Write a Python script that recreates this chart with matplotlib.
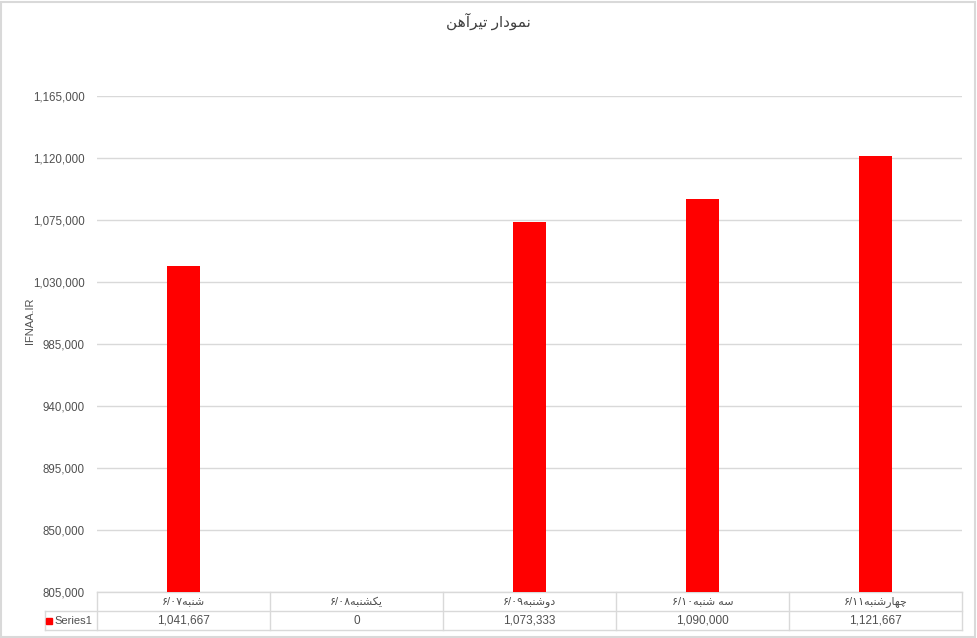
import matplotlib
matplotlib.use('Agg')
import matplotlib.pyplot as plt
from matplotlib.patches import Rectangle
import numpy as np

plt.rcParams['font.family'] = ['Liberation Sans', 'DejaVu Sans']

# داده‌ها
title = 'نمودار تیرآهن'
days = ['شنبه', 'یکشنبه', 'دوشنبه', 'سه شنبه', 'چهارشنبه']
dates = ['۶/۰۷', '۶/۰۸', '۶/۰۹', '۶/۱۰', '۶/۱۱']
values = [1041667, 0, 1073333, 1090000, 1121667]
series_name = 'Series1'
y_label = 'IFNAA.IR'
y_ticks = np.arange(805000, 1165001, 45000)

# matplotlib حروف فارسی را به هم نمی‌چسباند، پس شکل حروف دستی انتخاب می‌شود
# (تنها، پایانی، آغازی، میانی)
forms = {
    'ا': ('\ufe8d', '\ufe8e'),
    'آ': ('\ufe81', '\ufe82'),
    'د': ('\ufea9', '\ufeaa'),
    'ر': ('\ufead', '\ufeae'),
    'و': ('\ufeed', '\ufeee'),
    'ب': ('\ufe8f', '\ufe90', '\ufe91', '\ufe92'),
    'ت': ('\ufe95', '\ufe96', '\ufe97', '\ufe98'),
    'چ': ('\ufb7a', '\ufb7b', '\ufb7c', '\ufb7d'),
    'س': ('\ufeb1', '\ufeb2', '\ufeb3', '\ufeb4'),
    'ش': ('\ufeb5', '\ufeb6', '\ufeb7', '\ufeb8'),
    'ک': ('\ufb8e', '\ufb8f', '\ufb90', '\ufb91'),
    'م': ('\ufee1', '\ufee2', '\ufee3', '\ufee4'),
    'ن': ('\ufee5', '\ufee6', '\ufee7', '\ufee8'),
    'ه': ('\ufee9', '\ufeea', '\ufeeb', '\ufeec'),
    'ی': ('\ufbfc', '\ufbfd', '\ufbfe', '\ufbff'),
}


def shape(text):
    out = []
    for i, c in enumerate(text):
        if c not in forms:
            out.append(c)
            continue
        f = forms[c]
        prev = text[i - 1] if i > 0 else ''
        nxt = text[i + 1] if i + 1 < len(text) else ''
        join_prev = prev in forms and len(forms[prev]) == 4
        join_next = len(f) == 4 and nxt in forms
        if join_prev and join_next:
            out.append(f[3])
        elif join_prev:
            out.append(f[1])
        elif join_next:
            out.append(f[2])
        else:
            out.append(f[0])
    return ''.join(out[::-1])


grey = '#505050'
line_c = '#d9d9d9'

fig = plt.figure(figsize=(9.77, 6.38), dpi=100)
ax = fig.add_axes([97/977, 46/638, 865/977, 496/638])

x = np.arange(len(values))
ax.bar(x, values, width=0.185, color='#ff0000', zorder=3)
ax.set_xlim(-0.5, len(values) - 0.5)
ax.set_ylim(y_ticks[0], y_ticks[-1])
ax.set_yticks(y_ticks)
ax.set_yticklabels([f'{v:,}' for v in y_ticks])
ax.set_xticks([])
ax.yaxis.grid(True, color=line_c, lw=1)
ax.set_axisbelow(True)
for s in ax.spines.values():
    s.set_visible(False)
ax.tick_params(axis='y', length=0, labelsize=8.3, colors=grey, pad=9)

# جدول داده زیر نمودار
h1 = -19/496
h2 = -38/496
left = -52/865
tr = ax.transAxes
kw = dict(color=line_c, lw=1, transform=tr, clip_on=False)
ax.plot([0, 1], [0, 0], **kw)
ax.plot([left, 1], [h1, h1], **kw)
ax.plot([left, 1], [h2, h2], **kw)
ax.plot([left, left], [h1, h2], **kw)
n = len(values)
for i in range(n + 1):
    ax.plot([i/n, i/n], [0, h2], **kw)
for i in range(n):
    ax.text((i + 0.5)/n, h1/2, dates[i] + shape(days[i]), transform=tr,
            ha='center', va='center', fontsize=8, color=grey)
    ax.text((i + 0.5)/n, (h1 + h2)/2, f'{values[i]:,}', transform=tr,
            ha='center', va='center', fontsize=8.5, color=grey)
ax.plot([-48/865], [(h1 + h2)/2], marker='s', ms=4, color='#ff0000',
        transform=tr, clip_on=False)
ax.text(-43/865, (h1 + h2)/2, series_name, transform=tr,
        ha='left', va='center', fontsize=8, color=grey)

fig.text(30/977, 1 - 321/638, y_label, rotation=90, ha='center', va='center',
         fontsize=8, color=grey)
fig.text(0.5, 1 - 21/638, shape(title), ha='center', va='center',
         fontsize=11, color='#404040')

fig.patches.append(Rectangle((0.001, 0.002), 0.997, 0.995, transform=fig.transFigure,
                             fill=False, edgecolor=line_c, lw=1.5))

fig.savefig('out.png', dpi=100)
